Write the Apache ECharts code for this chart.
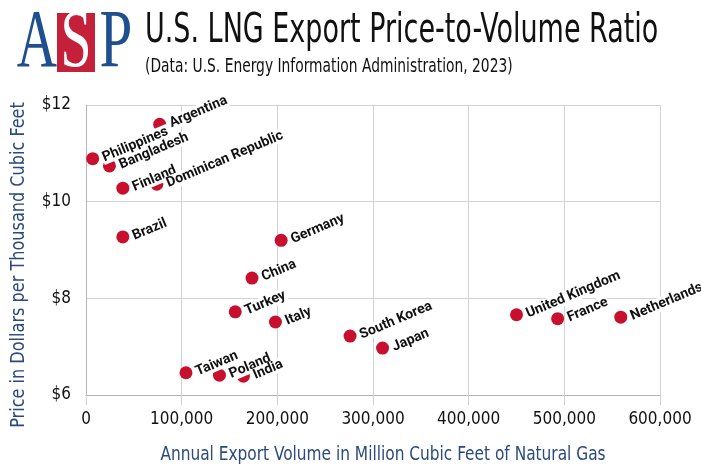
<!DOCTYPE html>
<html>
<head>
	<meta charset="UTF-8">
	<title>U.S. LNG Export Price-to-Volume Ratio</title>
	<script src="https://cdn.jsdelivr.net/npm/echarts@6/dist/echarts.min.js"></script>
	<style>
		html, body { margin: 0; padding: 0; background: #fff; }
	</style>
</head>
<body>
<div id="main" style="width: 701px;height:468px;"></div>
<script>
	// 国家 / 出口量 (百万立方英尺) / 价格 ($ 每千立方英尺)
	var countries = ['Philippines','Argentina','Bangladesh','Finland','Dominican Republic','Brazil',
		'Germany','China','Turkey','Italy','South Korea','Japan','Taiwan','Poland','India',
		'United Kingdom','France','Netherlands'];
	var volumes = [7000, 77000, 24500, 38500, 74000, 38500,
		204000, 173500, 156000, 198000, 276000, 310000, 104500, 139500, 164500,
		450000, 493000, 559000];
	var prices = [10.89, 11.60, 10.74, 10.28, 10.36, 9.27,
		9.20, 8.42, 7.72, 7.51, 7.22, 6.97, 6.46, 6.41, 6.39,
		7.66, 7.58, 7.61];
	var xTicks = [0, 600000, 100000];
	var yTicks = [6, 12, 2];

	var condensed = '"Liberation Sans Narrow", "DejaVu Sans Condensed", sans-serif';
	var blue = '#2b4a7e';

	function initData(){
		var myChart = echarts.init(document.getElementById('main'));
		var points = [];
		for (var i = 0; i < countries.length; i++) {
			points.push({ name: countries[i], value: [volumes[i], prices[i]] });
		}
		var option = {
			animation: false,
			grid: { left: 86, right: 41, top: 105, bottom: 73 },
			graphic: [
				// logo
				{ type: 'rect', shape: { x: 57, y: 13, width: 38, height: 59 }, style: { fill: '#c5203a' } },
				{ type: 'text', x: 37, y: 44, scaleX: 0.68, style: { text: 'A', fill: '#1f4f8f', font: '82px "Liberation Serif", serif', textAlign: 'center', textVerticalAlign: 'middle' } },
				{ type: 'text', x: 76, y: 44, scaleX: 0.68, style: { text: 'S', fill: '#fff', font: '82px "Liberation Serif", serif', textAlign: 'center', textVerticalAlign: 'middle' } },
				{ type: 'text', x: 116, y: 44, scaleX: 0.72, style: { text: 'P', fill: '#1f4f8f', font: '82px "Liberation Serif", serif', textAlign: 'center', textVerticalAlign: 'middle' } },
				// 标题
				{ type: 'text', x: 145, y: 32, scaleX: 0.75, style: { text: 'U.S. LNG Export Price-to-Volume Ratio', fill: '#111', font: '40px ' + condensed, textVerticalAlign: 'middle' } },
				{ type: 'text', x: 145, y: 67, scaleX: 0.81, style: { text: '(Data: U.S. Energy Information Administration, 2023)', fill: '#111', font: '19px ' + condensed, textVerticalAlign: 'middle' } },
				// 轴名称
				{ type: 'text', x: 383, y: 455, scaleX: 0.855, style: { text: 'Annual Export Volume in Million Cubic Feet of Natural Gas', fill: blue, font: '20px ' + condensed, textAlign: 'center', textVerticalAlign: 'middle' } },
				{ type: 'text', x: 19, y: 265, rotation: Math.PI / 2, scaleX: 0.895, style: { text: 'Price in Dollars per Thousand Cubic Feet', fill: blue, font: '20px ' + condensed, textAlign: 'center', textVerticalAlign: 'middle' } }
			],
			xAxis: {
				type: 'value',
				min: xTicks[0], max: xTicks[1], interval: xTicks[2],
				axisLine: { show: true, lineStyle: { color: '#b5b5b5' } },
				axisTick: { show: true, length: 10, lineStyle: { color: '#cfcfcf' } },
				splitLine: { show: true, lineStyle: { color: '#d2d2d2' } },
				axisLabel: {
					margin: 16, color: '#111', fontFamily: condensed, fontSize: 17,
					formatter: function (v) { return v.toLocaleString('en-US'); }
				}
			},
			yAxis: {
				type: 'value',
				min: yTicks[0], max: yTicks[1], interval: yTicks[2],
				axisLine: { show: true, lineStyle: { color: '#b5b5b5' } },
				axisTick: { show: false },
				splitLine: { show: true, lineStyle: { color: '#d2d2d2' } },
				axisLabel: {
					margin: 15, color: '#111', fontFamily: condensed, fontSize: 17,
					formatter: '${value}'
				}
			},
			series: [{
				type: 'scatter',
				symbolSize: 13,
				itemStyle: { color: '#c8102e', opacity: 1 },
				data: points,
				label: {
					show: true,
					position: 'right',
					distance: 3,
					rotate: 23,
					formatter: '{b}',
					color: '#111',
					fontFamily: 'Roboto, sans-serif',
					fontWeight: 'bold',
					fontSize: 14,
					backgroundColor: '#fff',
					padding: [0, 1]
				}
			}]
		};
		myChart.setOption(option);
	}

	initData();
</script>
</body>
</html>
